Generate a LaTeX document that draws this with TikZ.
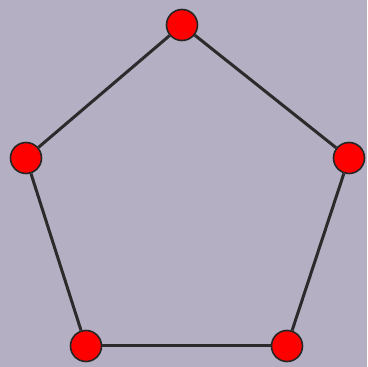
\documentclass[tikz,border=0pt]{standalone}
\definecolor{bg}{HTML}{B4AFC2}
\definecolor{edgec}{HTML}{2B2B2B}
\tikzset{vert/.style={circle,draw=black!85,line width=1.6pt,fill=red,minimum size=31pt,inner sep=0pt},
  edge/.style={draw=edgec,line width=3pt}}
\begin{document}
\begin{tikzpicture}[x=1pt,y=1pt]
\fill[bg] (0,0) rectangle (367,367);
\useasboundingbox (0,0) rectangle (367,367);
\node[vert] (a) at (182,342) {};
\node[vert] (b) at (26,209) {};
\node[vert] (c) at (349,209) {};
\node[vert] (d) at (86,21) {};
\node[vert] (e) at (287,21) {};
\draw[edge] (a) -- (b);
\draw[edge] (b) -- (d);
\draw[edge] (d) -- (e);
\draw[edge] (e) -- (c);
\draw[edge] (c) -- (a);
\end{tikzpicture}
\end{document}
